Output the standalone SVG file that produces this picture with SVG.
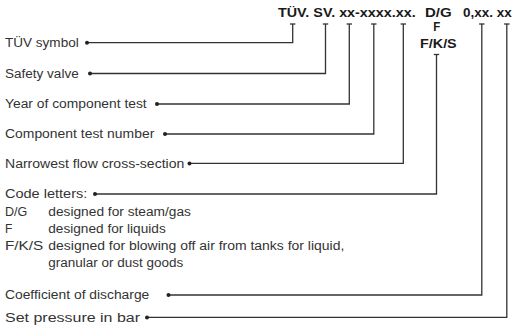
<svg xmlns="http://www.w3.org/2000/svg" width="514" height="330" viewBox="0 0 514 330">
<style>
.h{font-family:"Liberation Sans",Arial,sans-serif;font-weight:bold;font-size:12px;fill:#1a1a1a}
.t{font-family:"Liberation Sans",Arial,sans-serif;font-size:12px;fill:#333}
.c{fill:none;stroke:#333;stroke-width:1.3}
.d{fill:#222}
</style>
<rect width="514" height="330" fill="#fff"/>
<g id="heading">
<text class="h" x="278" y="17.3" textLength="137.7" lengthAdjust="spacingAndGlyphs">TÜV. SV. xx-xxxx.xx.</text>
<text class="h" x="425" y="17.3" textLength="26.7" lengthAdjust="spacingAndGlyphs">D/G</text>
<text class="h" x="463" y="17.3" textLength="48.7" lengthAdjust="spacingAndGlyphs">0,xx. xx</text>
<text class="h" x="433.3" y="31" textLength="7" lengthAdjust="spacingAndGlyphs">F</text>
<text class="h" x="420" y="47.5" textLength="36.7" lengthAdjust="spacingAndGlyphs">F/K/S</text>
</g>
<g id="label-tuv"><text class="t" x="5" y="46.7" textLength="73.7" lengthAdjust="spacingAndGlyphs">TÜV symbol</text></g>
<g id="label-sv"><text class="t" x="5" y="77.5" textLength="73.7" lengthAdjust="spacingAndGlyphs">Safety valve</text></g>
<g id="label-year"><text class="t" x="5" y="108.2" textLength="141.7" lengthAdjust="spacingAndGlyphs">Year of component test</text></g>
<g id="label-number"><text class="t" x="5" y="138.2" textLength="149.3" lengthAdjust="spacingAndGlyphs">Component test number</text></g>
<g id="label-flow"><text class="t" x="5" y="167.6" textLength="179.3" lengthAdjust="spacingAndGlyphs">Narrowest flow cross-section</text></g>
<g id="label-code">
<text class="t" x="5" y="198.3" textLength="82.3" lengthAdjust="spacingAndGlyphs">Code letters:</text>
<text class="t" x="5" y="215.6" textLength="22.3" lengthAdjust="spacingAndGlyphs">D/G</text><text class="t" x="48.3" y="215.6" textLength="142.7" lengthAdjust="spacingAndGlyphs">designed for steam/gas</text>
<text class="t" x="5" y="232.8">F</text><text class="t" x="48.3" y="232.8" textLength="117.4" lengthAdjust="spacingAndGlyphs">designed for liquids</text>
<text class="t" x="5" y="250" textLength="38.3" lengthAdjust="spacingAndGlyphs">F/K/S</text><text class="t" x="48.3" y="250" textLength="296" lengthAdjust="spacingAndGlyphs">designed for blowing off air from tanks for liquid,</text>
<text class="t" x="48.3" y="267.2" textLength="135" lengthAdjust="spacingAndGlyphs">granular or dust goods</text>
</g>
<g id="label-coeff"><text class="t" x="5" y="299.2" textLength="144.3" lengthAdjust="spacingAndGlyphs">Coefficient of discharge</text></g>
<g id="label-pressure"><text class="t" x="5" y="321.5" textLength="135" lengthAdjust="spacingAndGlyphs">Set pressure in bar</text></g>
<g id="connectors">
<polyline class="c" points="87,42.7 292.7,42.7 292.7,24"/><line class="c" x1="290" y1="24" x2="295.4" y2="24"/><circle class="d" cx="87" cy="42.7" r="2"/>
<polyline class="c" points="90,73.5 325.5,73.5 325.5,24"/><line class="c" x1="322.8" y1="24" x2="328.2" y2="24"/><circle class="d" cx="90" cy="73.5" r="2"/>
<polyline class="c" points="157,104 349.3,104 349.3,24"/><line class="c" x1="346.6" y1="24" x2="352" y2="24"/><circle class="d" cx="157" cy="104" r="2"/>
<polyline class="c" points="165,134 373.8,134 373.8,24"/><line class="c" x1="371.1" y1="24" x2="376.5" y2="24"/><circle class="d" cx="165" cy="134" r="2"/>
<polyline class="c" points="189.5,163.4 403.3,163.4 403.3,24"/><line class="c" x1="400.6" y1="24" x2="406" y2="24"/><circle class="d" cx="189.5" cy="163.4" r="2"/>
<polyline class="c" points="95,194 436.5,194 436.5,54.5"/><line class="c" x1="433.8" y1="54.5" x2="439.2" y2="54.5"/><circle class="d" cx="95" cy="194" r="2"/>
<polyline class="c" points="168.5,295 481.8,295 481.8,24"/><line class="c" x1="479.1" y1="24" x2="484.5" y2="24"/><circle class="d" cx="168.5" cy="295" r="2"/>
<polyline class="c" points="147,317.4 506.8,317.4 506.8,24"/><line class="c" x1="504.1" y1="24" x2="509.5" y2="24"/><circle class="d" cx="147" cy="317.4" r="2"/>
</g>
</svg>
